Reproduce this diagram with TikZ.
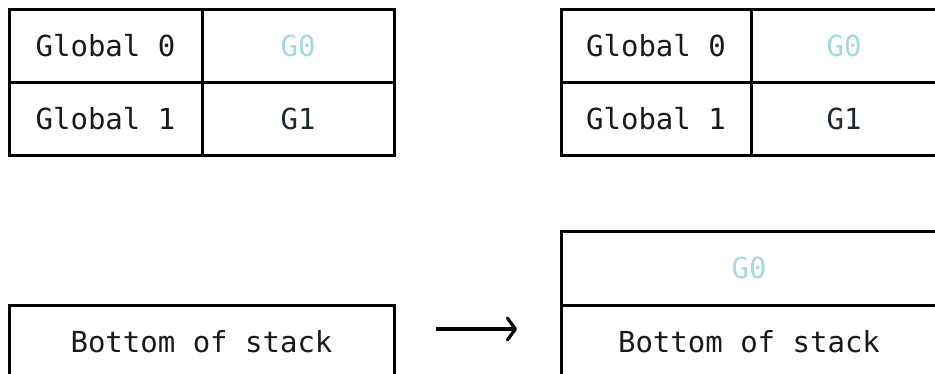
\documentclass[tikz,border=0pt]{standalone}
\usepackage{fontspec}
\setmonofont{DejaVu Sans Mono}
\usetikzlibrary{arrows.meta}
\definecolor{inkdark}{HTML}{1A1A1A}
\definecolor{inkslate}{HTML}{1F2933}
\definecolor{inkteal}{HTML}{A3D9DF}
\tikzset{
  cell/.style={draw=black, line width=3pt, inner sep=0pt, outer sep=0pt,
    font=\ttfamily\fontsize{29}{34}\selectfont, text=inkdark,
    text height=20pt, text depth=0pt, anchor=north west},
  wide/.style={cell, minimum width=385pt, minimum height=73pt},
  fresh/.style={text=inkteal},
  flow/.style={line width=3.2pt, -{Straight Barb[length=8pt,width=22pt,line width=3.2pt,round]}}
}
\begin{document}
\begin{tikzpicture}[x=1pt,y=-1pt]
\useasboundingbox (0,0) rectangle (935,374);
% globals table before
\node[cell, minimum width=193pt, minimum height=73pt] (la) at (9,10) {Global 0};
\node[cell, fresh, minimum width=192pt, minimum height=73pt] (lb) at (202,10) {G0};
\node[cell, minimum width=193pt, minimum height=73pt] (lc) at (9,83) {Global 1};
\node[cell, text=inkslate, minimum width=192pt, minimum height=73pt] (ld) at (202,83) {G1};
% globals table after
\node[cell, minimum width=190pt, minimum height=73pt] (ra) at (561,10) {Global 0};
\node[cell, fresh, minimum width=186pt, minimum height=73pt] (rb) at (751,10) {G0};
\node[cell, minimum width=190pt, minimum height=73pt] (rc) at (561,83) {Global 1};
\node[cell, text=inkslate, minimum width=186pt, minimum height=73pt] (rd) at (751,83) {G1};
% stack before
\node[wide] (sb) at (9,306) {Bottom of stack};
% stack after
\node[cell, fresh, minimum width=376pt, minimum height=74pt] (sg) at (561,232) {G0};
\node[cell, minimum width=376pt, minimum height=73pt] (sa) at (561,306) {Bottom of stack};
% transition arrow
\coordinate (from) at (436,329);
\coordinate (to) at (517,329);
\draw[flow] (from) -- (to);
\end{tikzpicture}
\end{document}
